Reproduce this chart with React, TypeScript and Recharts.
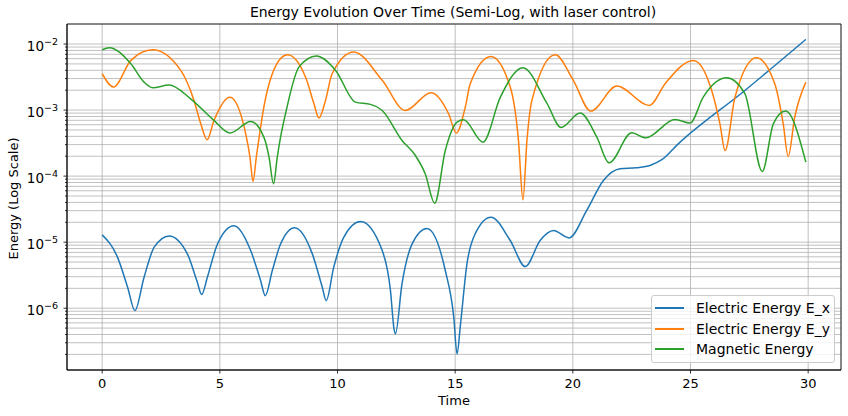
import { LineChart, Line, XAxis, YAxis, CartesianGrid, Legend, ReferenceArea } from "recharts";

// time samples and energies
const exTimes = [
  0, 0.65, 1.08, 1.39, 1.78, 2.21, 2.84, 3.62, 4.02, 4.23, 4.47, 4.9, 5.6, 6.31, 6.73, 6.93, 7.23, 7.58,
  8.18, 8.93, 9.35, 9.52, 9.84, 10.27, 10.98, 11.9, 12.25, 12.4, 12.46, 12.74, 13.17, 13.8, 14.58, 14.94,
  15.08, 15.22, 15.5, 15.85, 16.52, 17.34, 17.98, 18.61, 19.18, 19.84, 20.59, 21.3, 22.0, 22.7, 23.28,
  23.78, 24.48, 27.31, 29.9,
];
const exValues = [
  1.29e-5, 5.93e-6, 2.08e-6, 9.2e-7, 2.95e-6, 8.4e-6, 1.245e-5, 6.65e-6, 2.63e-6, 1.61e-6, 2.95e-6, 9.4e-6,
  1.77e-5, 7.46e-6, 2.63e-6, 1.55e-6, 3.72e-6, 9.4e-6, 1.66e-5, 6.65e-6, 2.09e-6, 1.3e-6, 4.18e-6, 1.19e-5,
  2.05e-5, 7.46e-6, 1.85e-6, 4.9e-7, 4.08e-7, 2.33e-6, 9.4e-6, 1.61e-5, 3.72e-6, 7.3e-7, 2.03e-7, 5.45e-7,
  4.69e-6, 1.34e-5, 2.39e-5, 1.06e-5, 4.27e-6, 1.06e-5, 1.5e-5, 1.16e-5, 3.02e-5, 8.57e-5, 1.29e-4, 1.34e-4,
  1.45e-4, 1.77e-4, 3.08e-4, 1.98e-3, 1.175e-2,
];

const eyTimes = [
  0, 0.48, 1.22, 2.14, 3.34, 3.9, 4.19, 4.46, 4.75, 5.43, 6.1, 6.28, 6.41, 6.55, 6.87, 7.58, 7.87, 8.64, 9.0,
  9.21, 9.49, 9.77, 10.69, 11.9, 12.88, 13.97, 14.72, 15.05, 15.43, 15.64, 16.52, 17.34, 17.69, 17.88, 18.05,
  18.26, 19.25, 20.02, 20.76, 21.87, 23.25, 23.92, 25.12, 25.9, 26.25, 26.47, 26.89, 27.8, 28.58, 28.94, 29.15,
  29.43, 29.9,
];
const eyValues = [
  3.55e-3, 2.23e-3, 5.65e-3, 8.2e-3, 3.98e-3, 1.4e-3, 6.19e-4, 3.55e-4, 6.97e-4, 1.57e-3, 4.37e-4, 1.94e-4,
  8.3e-5, 1.94e-4, 1.11e-3, 6.03e-3, 6.89e-3, 3.16e-3, 1.245e-3, 7.57e-4, 1.4e-3, 3.55e-3, 7.57e-3, 2.82e-3,
  9.86e-4, 1.83e-3, 8.79e-4, 4.49e-4, 1.11e-3, 2.51e-3, 6.49e-3, 2.23e-3, 3.47e-4, 4.38e-5, 3.47e-4, 1.4e-3,
  6.89e-3, 2.82e-3, 9.66e-4, 2.31e-3, 1.175e-3, 2.51e-3, 5.65e-3, 1.98e-3, 6.19e-4, 2.44e-4, 1.57e-3, 6.19e-3,
  2.51e-3, 6.19e-4, 1.98e-4, 7.83e-4, 2.65e-3,
];

const magTimes = [
  0, 0.3, 1.22, 1.78, 2.14, 2.84, 3.76, 4.75, 5.43, 6.31, 6.87, 7.09, 7.28, 7.44, 7.58, 7.79, 8.36, 9.1, 9.92,
  10.76, 11.4, 11.9, 12.74, 13.31, 13.73, 14.13, 14.58, 15.08, 15.36, 16.18, 16.92, 17.88, 18.9, 19.5, 20.31,
  21.02, 21.54, 22.5, 23.1, 24.34, 24.98, 25.54, 26.53, 27.31, 28.05, 28.52, 29.04, 29.9,
];
const magValues = [
  8.2e-3, 8.79e-3, 5.01e-3, 2.65e-3, 2.18e-3, 2.39e-3, 1.48e-3, 6.97e-4, 4.49e-4, 6.73e-4, 3.89e-4, 1.94e-4,
  7.64e-5, 1.94e-4, 3.89e-4, 8.79e-4, 4.47e-3, 6.58e-3, 3.98e-3, 1.32e-3, 1.22e-3, 9.86e-4, 3.47e-4, 2.05e-4,
  1.08e-4, 3.9e-5, 2.44e-4, 6.58e-4, 7.13e-4, 3.27e-4, 1.57e-3, 4.38e-3, 1.26e-3, 5.46e-4, 9.0e-4, 3.89e-4,
  1.59e-4, 4.53e-4, 3.8e-4, 7.21e-4, 6.35e-4, 1.57e-3, 3.08e-3, 1.77e-3, 1.175e-4, 6.19e-4, 9.66e-4, 1.63e-4,
];

const xTicks = [0, 5, 10, 15, 20, 25, 30];
const yMajorTicks = [1e-6, 1e-5, 1e-4, 1e-3, 1e-2];
const yMinorDecades = [1e-7, 1e-6, 1e-5, 1e-4, 1e-3];
const yMinorSteps = [2, 3, 4, 5, 6, 7, 8, 9];

const seriesNames = ["Electric Energy E_x", "Electric Energy E_y", "Magnetic Energy"];
const colors = ["#1f77b4", "#ff7f0e", "#2ca02c"];

const X_DOMAIN: [number, number] = [-1.495, 31.395];
const Y_DOMAIN: [number, number] = [1.16e-7, 0.0201];
const FONT = "'DejaVu Sans', sans-serif";
const PLOT_LEFT = 67;

const toRows = (ts: number[], vs: number[]) => ts.map((t, i) => ({ t, v: vs[i] }));
const series = [toRows(exTimes, exValues), toRows(eyTimes, eyValues), toRows(magTimes, magValues)];

const yTicks = [
  ...yMajorTicks,
  ...yMinorDecades.flatMap((d) => yMinorSteps.map((m) => m * d)),
].sort((a, b) => a - b);

const isMajor = (v: number) => Math.abs(Math.log10(v) - Math.round(Math.log10(v))) < 1e-6;

const YTick = (props: any) => {
  const { y, payload } = props;
  const v = payload.value;
  if (!isMajor(v)) {
    return <line x1={PLOT_LEFT - 2} x2={PLOT_LEFT} y1={y} y2={y} stroke="#000" strokeWidth={0.8} />;
  }
  const exp = Math.round(Math.log10(v));
  return (
    <g>
      <line x1={PLOT_LEFT - 3.5} x2={PLOT_LEFT} y1={y} y2={y} stroke="#000" strokeWidth={0.8} />
      <text x={PLOT_LEFT - 9} y={y} textAnchor="end" fontFamily={FONT} fill="#000">
        <tspan fontSize={13.5} dy={6.5}>10</tspan>
        <tspan fontSize={9.5} dy={-5.5}>{"\u2212" + Math.abs(exp)}</tspan>
      </text>
    </g>
  );
};

const YTitle = (props: any) => {
  const { viewBox } = props;
  const x = viewBox.x + 13;
  const y = viewBox.y + viewBox.height / 2 + 1.5;
  return (
    <text x={x} y={y} transform={`rotate(-90, ${x}, ${y})`} textAnchor="middle" dominantBaseline="central"
      fontFamily={FONT} fontSize={13} fill="#000">
      Energy (Log Scale)
    </text>
  );
};

const XTitle = (props: any) => {
  const { viewBox } = props;
  return (
    <text x={viewBox.x + viewBox.width / 2} y={viewBox.y + 35} textAnchor="middle"
      fontFamily={FONT} fontSize={13} fill="#000">
      Time
    </text>
  );
};

const LegendBox = () => (
  <div
    style={{
      boxSizing: "border-box",
      width: 184,
      height: 68,
      border: "1px solid #cccccc",
      borderRadius: 3,
      background: "rgba(255,255,255,0.8)",
      padding: "2px 0 0 3px",
      fontFamily: FONT,
      fontSize: 14,
      color: "#000",
    }}
  >
    {seriesNames.map((name, i) => (
      <div key={name} style={{ display: "flex", alignItems: "center", height: 20.5 }}>
        <span style={{ display: "inline-block", width: 29, height: 2, background: colors[i], marginRight: 12 }} />
        <span style={{ whiteSpace: "nowrap" }}>{name}</span>
      </div>
    ))}
  </div>
);

export default function App() {
  return (
    <div style={{ position: "absolute", left: 0, top: 0, width: 848, height: 416, background: "#fff" }}>
      <div
        style={{
          position: "absolute",
          left: 0,
          width: 906,
          top: 4.5,
          textAlign: "center",
          fontFamily: FONT,
          fontSize: 14,
          lineHeight: "14px",
          color: "#000",
          whiteSpace: "nowrap",
        }}
      >
        Energy Evolution Over Time (Semi-Log, with laser control)
      </div>
      <LineChart width={848} height={416} margin={{ top: 24, right: 7, bottom: 0, left: 0 }}>
        <CartesianGrid stroke="#b0b0b0" strokeWidth={0.8} />
        <XAxis
          dataKey="t"
          type="number"
          domain={X_DOMAIN}
          allowDataOverflow
          ticks={xTicks}
          interval={0}
          height={46}
          tickSize={3.5}
          tickMargin={5.5}
          axisLine={{ stroke: "#000", strokeWidth: 0.8 }}
          tickLine={{ stroke: "#000", strokeWidth: 0.8 }}
          tick={{ fill: "#000", fontSize: 13, fontFamily: FONT }}
          label={<XTitle />}
        />
        <YAxis
          dataKey="v"
          scale="log"
          domain={Y_DOMAIN}
          allowDataOverflow
          ticks={yTicks}
          interval={0}
          width={PLOT_LEFT}
          tickLine={false}
          axisLine={{ stroke: "#000", strokeWidth: 0.8 }}
          tick={<YTick />}
          label={<YTitle />}
        />
        <ReferenceArea
          x1={X_DOMAIN[0]}
          x2={X_DOMAIN[1]}
          y1={Y_DOMAIN[0]}
          y2={Y_DOMAIN[1]}
          fill="none"
          fillOpacity={0}
          stroke="#000"
          strokeWidth={0.8}
          ifOverflow="visible"
        />
        {series.map((rows, i) => (
          <Line
            key={seriesNames[i]}
            data={rows}
            dataKey="v"
            name={seriesNames[i]}
            type="monotone"
            stroke={colors[i]}
            strokeWidth={1.5}
            dot={false}
            activeDot={false}
            isAnimationActive={false}
          />
        ))}
        <Legend
          layout="vertical"
          align="center"
          verticalAlign="middle"
          content={<LegendBox />}
          wrapperStyle={{ position: "absolute", left: 651, top: 295, width: 184, height: 68 }}
        />
      </LineChart>
    </div>
  );
}
